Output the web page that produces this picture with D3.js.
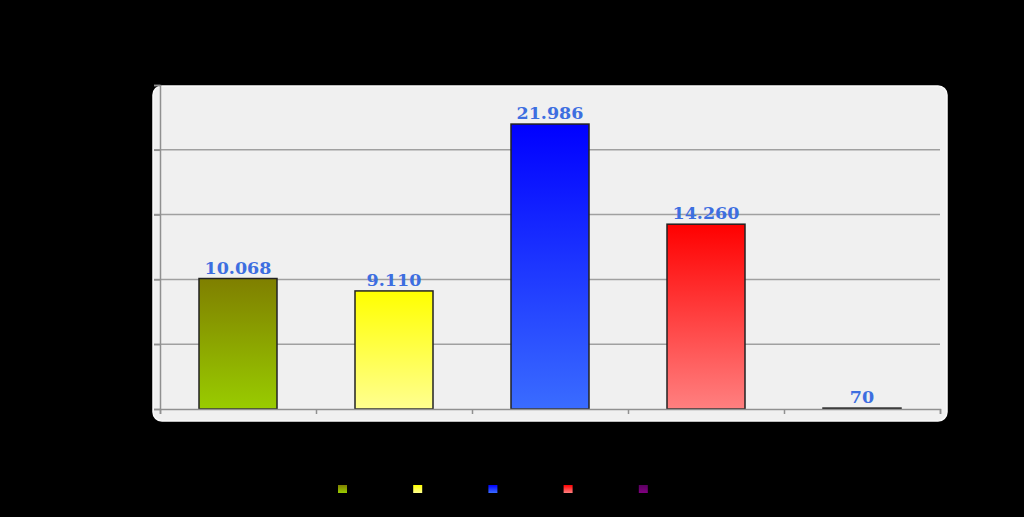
<!DOCTYPE html>
<html><head><meta charset="utf-8">
<script src="https://cdn.jsdelivr.net/npm/d3@7"></script>
<style>html,body{margin:0;padding:0;background:#000;}svg{display:block;}</style>
</head><body>
<script>
const categories = ["Categoria 1", "Categoria 2", "Categoria 3", "Categoria 4", "Categoria 5"];
const values = [10068, 9110, 21986, 14260, 70];
const yTicks = [0, 5000, 10000, 15000, 20000, 25000];
const topColors = ["#7f7f00", "#ffff00", "#0000ff", "#ff0000", "#5a0060"];
const bottomColors = ["#99cc00", "#ffff90", "#3a6cff", "#ff8080", "#800080"];

const W = 1024, H = 517;
const svg = d3.select("body").append("svg").attr("width", W).attr("height", H);
svg.append("rect").attr("width", W).attr("height", H).attr("fill", "#000");

const defs = svg.append("defs");
categories.forEach((c, i) => {
  const g = defs.append("linearGradient").attr("id", "g" + i)
    .attr("x1", 0).attr("y1", 0).attr("x2", 0).attr("y2", 1);
  g.append("stop").attr("offset", "0%").attr("stop-color", topColors[i]);
  g.append("stop").attr("offset", "100%").attr("stop-color", bottomColors[i]);
});

const plot = {left: 160, right: 940, top: 85, bottom: 409};
svg.append("rect").attr("x", 153).attr("y", 86).attr("width", 794).attr("height", 335)
  .attr("rx", 9).attr("fill", "#f0f0f0").attr("stroke", "#fafafa").attr("stroke-width", 1.5);

const x = d3.scaleBand().domain(categories).range([plot.left, plot.right]).paddingInner(0.5).paddingOuter(0.25);
const y = d3.scaleLinear().domain([0, 25000]).range([plot.bottom, plot.top]);

// gridlines
svg.append("g").selectAll("line").data(yTicks.filter(t => t > 0 && t < 25000)).join("line")
  .attr("x1", 154).attr("x2", plot.right).attr("y1", d => y(d)).attr("y2", d => y(d))
  .attr("stroke", "#a0a0a0").attr("stroke-width", 1.5);

// left axis
const yAxis = svg.append("g").attr("transform", `translate(${plot.left},0)`)
  .call(d3.axisLeft(y).tickValues(yTicks).tickSize(6).tickFormat(""));
yAxis.select(".domain").attr("stroke", "#909090").attr("stroke-width", 1.5);
yAxis.selectAll(".tick line").attr("stroke", "#909090").attr("stroke-width", 1.5);

// bars
svg.append("g").selectAll("rect").data(values).join("rect")
  .attr("x", (d, i) => x(categories[i]))
  .attr("y", d => y(d))
  .attr("width", x.bandwidth())
  .attr("height", d => y(0) - y(d))
  .attr("fill", (d, i) => `url(#g${i})`)
  .attr("stroke", "#222").attr("stroke-width", 1.5);

// bottom axis
const bandStep = x.step();
const xb = d3.scaleLinear().domain([0, categories.length]).range([plot.left, plot.right]);
const xAxis = svg.append("g").attr("transform", `translate(0,${plot.bottom})`)
  .call(d3.axisBottom(xb).ticks(categories.length).tickSize(5).tickFormat(""));
xAxis.select(".domain").attr("stroke", "#909090").attr("stroke-width", 1.5);
xAxis.selectAll(".tick line").attr("stroke", "#909090").attr("stroke-width", 1.5);

// value labels
const fmt = d3.formatLocale({decimal: ",", thousands: ".", grouping: [3], currency: ["", ""]}).format(",d");
svg.append("g").selectAll("text").data(values).join("text")
  .attr("x", (d, i) => x(categories[i]) + x.bandwidth() / 2)
  .attr("y", d => y(d) - 5)
  .attr("text-anchor", "middle")
  .attr("font-family", "'DejaVu Serif', serif").attr("font-weight", "bold")
  .attr("font-size", 17.5).attr("fill", "#3d6ee0")
  .text(d => fmt(d));

// legend
const legend = svg.append("g");
categories.forEach((c, i) => {
  legend.append("rect").attr("x", 338 + i * 75.2).attr("y", 485).attr("width", 9).attr("height", 8)
    .attr("fill", `url(#g${i})`);
});
</script>
</body></html>
